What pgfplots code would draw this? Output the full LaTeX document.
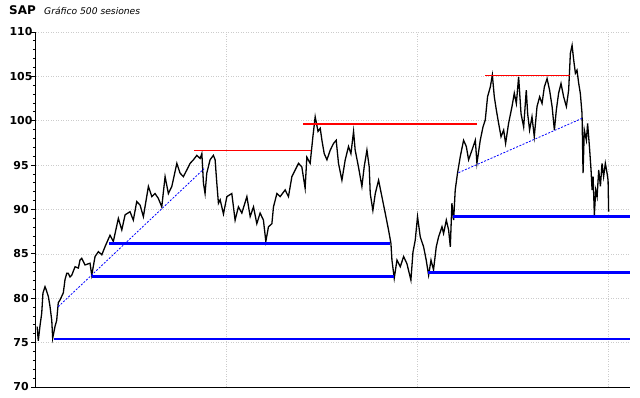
\documentclass[border=0pt]{standalone}
\usepackage{fontspec}
\setmainfont{DejaVu Sans}
\usepackage{pgfplots}
\pgfplotsset{compat=1.18}
\begin{document}
\begin{tikzpicture}
\begin{axis}[
 name=ax,
 scale only axis, width=594bp, height=355bp,
 xmin=0, xmax=520, ymin=70, ymax=110,
 axis x line*=bottom, axis y line*=left,
 axis line style={black, line width=1bp, -},
 ytick={70,75,...,110},
 minor y tick num=4,
 xtick=\empty,
 extra x ticks={167,334,501}, extra x tick labels={},
 extra x tick style={grid=major, major tick length=0pt},
 major tick length=5bp, minor tick length=3bp,
 tick align=outside,
 tick style={black, line width=0.8bp},
 ymajorgrids,
 grid style={gray!40, dash pattern=on 1bp off 1.5bp, line width=0.6bp},
 yticklabel style={font=\fontsize{11}{12}\selectfont\bfseries, anchor=center, xshift=-10bp},
 /pgf/number format/assume math mode=true,
 clip=false,
]
\addplot[black, line width=1.3bp] coordinates {
(1,76.8) (2,75.2) (3.5,76.9) (5,78.3) (6.1,80.6) (7.9,81.3) (8.8,81.0) (10.8,80.2) (12.3,79.05) (13.8,77.5) (14.6,75.5) (16.6,76.8) (18.1,77.5) (19.5,79.5) (21,79.8) (23.9,80.6) (25.4,82.1) (26.9,82.8) (28.3,82.8) (29.8,82.4) (31.3,82.6) (34.2,83.55) (37.1,83.4) (38.5,84.3) (40,84.5) (42.9,83.75) (47.3,83.95) (48.8,82.6) (51.7,84.7) (54.6,85.25) (57.6,84.9) (60.4,85.8) (64.8,87.1) (67.7,86.4) (72.1,89.0) (75.1,87.7) (78,89.4) (82.3,89.75) (85.2,88.8) (88.2,90.9) (91.1,90.5) (94,89.2) (98.4,92.6) (101.4,91.45) (104.2,91.8) (107.1,91.25) (110.1,90.3) (113,93.7) (115.9,91.8) (118.9,92.6) (123.3,95.2) (126.1,94.1) (129,93.7) (132,94.45) (134.9,95.2) (137.8,95.6) (140.8,96.1) (143.7,95.75) (145.2,96.3) (146.6,92.95) (148,91.8) (149.5,94.1) (152.4,95.6) (155.3,96.1) (156.8,95.6) (158.3,92.95) (159.7,90.7) (161.2,91.1) (164.1,89.5) (167.1,91.45) (171.4,91.8) (174.3,88.8) (177.2,90.3) (180.2,89.6) (184.6,91.45) (187.5,89.2) (190.4,90.3) (193.3,88.4) (196.2,89.6) (199.1,88.8) (201.2,86.4) (203.5,88.05) (206.5,88.4) (207.9,90.3) (210.9,91.8) (213.7,91.45) (218.1,92.2) (221,91.45) (224,93.7) (226.9,94.45) (229.8,95.2) (232.7,94.8) (235.6,92.4) (237.1,95.9) (240,95.2) (242.4,98.2) (244.4,100.45) (246.9,98.8) (248.8,99.15) (250.3,97.8) (252.3,96.3) (254.7,95.6) (257.6,96.7) (260.5,97.45) (262.8,97.8) (264.8,95.2) (267.8,93.3) (270.7,95.6) (273.6,97.1) (275.7,96.3) (278,98.8) (279.4,96.7) (282.3,94.8) (285.3,92.6) (287.3,94.8) (289.7,96.7) (291.7,94.8) (292.6,91.8) (294.9,89.9) (297,91.8) (299.9,93.3) (302.8,91.45) (305.7,89.6) (308.6,87.7) (310.7,86.2) (311.6,84.3) (313.6,82.25) (316,84.3) (318.9,83.55) (321.8,84.7) (324.7,83.9) (328.2,82.05) (330,85.2) (332,86.55) (334,89.2) (336.4,86.9) (339.3,85.8) (341.6,84.3) (343.7,82.6) (345.8,84.3) (348,83.2) (350.4,85.8) (352.4,86.9) (355.4,88.05) (356.8,87.3) (359.2,88.8) (361.2,87.7) (362.7,85.8) (364.1,90.7) (365.6,88.8) (367,92.2) (369,94.1) (371.4,95.95) (374.3,97.8) (376.7,97.1) (378.7,95.6) (381.7,96.7) (384.6,97.8) (386,95.2) (388.9,97.8) (391.3,99.3) (393.3,100.1) (395.3,102.7) (397.7,103.8) (399.5,105.15) (401.2,102.7) (403,101.2) (405,99.7) (407.1,98.2) (409.4,98.95) (411.1,97.45) (413.7,99.7) (416.7,101.6) (418.7,103.1) (420.5,101.95) (422.5,104.95) (424.6,100.8) (426.9,99.3) (429.2,103.45) (430.4,100.8) (432.1,98.95) (434.2,100.45) (436.2,98.2) (438.6,101.6) (440.9,102.7) (443,101.95) (445,103.8) (447.4,104.75) (449.6,103.45) (451.8,101.6) (453.8,98.95) (455.5,101.2) (457.5,103.1) (459.6,104.2) (461.9,102.7) (464.3,101.6) (466.3,103.45) (467.8,107.6) (469.3,108.5) (470.7,106.85) (472.2,105.35) (473.6,105.7) (475.1,104.2) (476.5,103.1) (478,100.8) (478.9,94.1) (480,98.95) (481.8,97.8) (482.9,99.7) (484.7,96.7) (485.9,94.45) (486.8,92.2) (487.7,93.7) (488.8,89.4) (490,92.2) (491.2,91.45) (492.6,94.45) (494.1,92.6) (495.5,95.2) (496.9,93.7) (498.4,95.2) (499.9,94.1) (500.8,93.3) (501.3,89.75)
};
% support lines
\addplot[blue, line width=2.6bp] coordinates {(15.8,75.4) (520,75.4)};
\addplot[blue, line width=2.6bp] coordinates {(48.6,82.43) (313.6,82.43)};
\addplot[blue, line width=2.6bp] coordinates {(343.4,82.92) (520,82.92)};
\addplot[blue, line width=2.6bp] coordinates {(64,86.19) (310.1,86.19)};
\addplot[blue, line width=2.6bp] coordinates {(365.3,89.23) (520,89.23)};
% resistance lines
\addplot[red, line width=1bp] coordinates {(138.4,96.67) (240.9,96.67)};
\addplot[red, line width=2.6bp] coordinates {(233.9,99.63) (386.3,99.63)};
\addplot[red, line width=1bp] coordinates {(393.3,105.08) (467.8,105.08)};
% trend lines
\addplot[blue, line width=0.8bp, dash pattern=on 2bp off 1.5bp] coordinates {(19.4,79.04) (147.2,94.6)};
\addplot[blue, line width=0.8bp, dash pattern=on 2bp off 1.5bp] coordinates {(369.9,94.15) (478,100.27)};
\end{axis}
\node[anchor=base west, font=\fontsize{12}{14}\selectfont\bfseries, inner sep=0pt] at ([shift={(-27bp,17bp)}]ax.north west) {SAP};
\node[anchor=base west, font=\fontsize{9.2}{11}\selectfont\itshape, inner sep=0pt] at ([shift={(8bp,17bp)}]ax.north west) {Gráfico 500 sesiones};
\pgfresetboundingbox
\path ([shift={(-36bp,-11bp)}]ax.south west) rectangle ([shift={(10bp,32bp)}]ax.north east);
\end{tikzpicture}
\end{document}
